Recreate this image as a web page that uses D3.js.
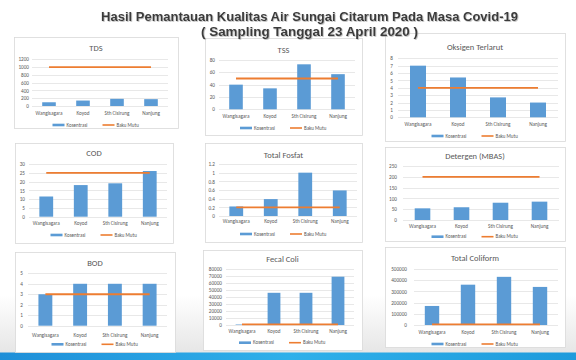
<!DOCTYPE html>
<html><head><meta charset="utf-8">
<script src="https://cdn.jsdelivr.net/npm/d3@7"></script>
<style>body{margin:0;background:#fff}svg{display:block}</style>
</head><body><svg id="c" width="576" height="360"></svg>
<script>
// ---------- DATA ----------
const categories = ["Wangisagara", "Koyod", "Sth Cisirung", "Nanjung"];
const seriesNames = ["Kosentrasi", "Baku Mutu"];
const mainTitle = ["Hasil Pemantauan Kualitas Air Sungai Citarum Pada Masa Covid-19", "( Sampling Tanggal 23 April 2020 )"];
const chartTitles = ["TDS", "TSS", "Oksigen Terlarut", "COD", "Total Fosfat", "Detergen (MBAS)", "BOD", "Fecal Coli", "Total Coliform"];

const tdsValues = [96, 140, 184, 176];
const tdsStandard = [1000, 1000, 1000, 1000];
const tssValues = [40, 34, 73, 57];
const tssStandard = [50, 50, 50, 50];
const doValues = [7, 5.4, 2.7, 2];
const doStandard = [4, 4, 4, 4];
const codValues = [11.5, 18, 19, 26];
const codStandard = [25, 25, 25, 25];
const fosfatValues = [0.22, 0.39, 1.0, 0.59];
const fosfatStandard = [0.2, 0.2, 0.2, 0.2];
const detergenValues = [54, 59, 80, 85];
const detergenStandard = [200, 200, 200, 200];
const bodValues = [3, 4, 4, 4];
const bodStandard = [3, 3, 3, 3];
const fecalValues = [700, 46000, 46000, 69000];
const fecalStandard = [1000, 1000, 1000, 1000];
const coliformValues = [170000, 360000, 430000, 340000];
const coliformStandard = [5000, 5000, 5000, 5000];

const tdsTicks = [0, 200, 400, 600, 800, 1000, 1200];
const tssTicks = [0, 20, 40, 60, 80];
const doTicks = [0, 1, 2, 3, 4, 5, 6, 7, 8];
const codTicks = [0, 5, 10, 15, 20, 25, 30];
const fosfatTicks = [0, 0.2, 0.4, 0.6, 0.8, 1, 1.2];
const fosfatTickLabels = ["0", "0.2", "0.4", "0.6", "0.8", "1", "1.2"];
const detergenTicks = [0, 50, 100, 150, 200, 250];
const bodTicks = [0, 1, 2, 3, 4, 5];
const fecalTicks = [0, 10000, 20000, 30000, 40000, 50000, 60000, 70000, 80000];
const coliformTicks = [0, 100000, 200000, 300000, 400000, 500000];

// ---------- LAYOUT (positions only) ----------
const layout = [
  {box:[14,37,178,128], px:[32,168], py:[59.3,106], titleY:48, catY:113, legY:125, labelX:29},
  {box:[205,38,362,135], px:[219,355], py:[60,109.3], titleY:50, catY:116, legY:128, labelX:215},
  {box:[385,33,565,141], px:[398,558], py:[58.3,117.3], titleY:47, catY:124, legY:136, labelX:393},
  {box:[15,143,173,243], px:[29,167], py:[164,216.7], titleY:153, catY:223, legY:235, labelX:25},
  {box:[205,143,362,242], px:[219,357], py:[164,216], titleY:155, catY:221, legY:234, labelX:215},
  {box:[385,147,565,241], px:[403,559], py:[166,220], titleY:156, catY:225.7, legY:236.7, labelX:397},
  {box:[15,252,175,352], px:[28,167], py:[273.3,325.7], titleY:263, catY:335, legY:344.3, labelX:23},
  {box:[203,250,362,350], px:[226,354], py:[269,325], titleY:259, catY:331, legY:342.7, labelX:222},
  {box:[385,247,565,347], px:[414,558], py:[269,325], titleY:257.7, catY:332, legY:344, labelX:407}
];

const panels = [
  {values:tdsValues, std:tdsStandard, ticks:tdsTicks},
  {values:tssValues, std:tssStandard, ticks:tssTicks},
  {values:doValues, std:doStandard, ticks:doTicks},
  {values:codValues, std:codStandard, ticks:codTicks},
  {values:fosfatValues, std:fosfatStandard, ticks:fosfatTicks, labels:fosfatTickLabels},
  {values:detergenValues, std:detergenStandard, ticks:detergenTicks},
  {values:bodValues, std:bodStandard, ticks:bodTicks},
  {values:fecalValues, std:fecalStandard, ticks:fecalTicks},
  {values:coliformValues, std:coliformStandard, ticks:coliformTicks}
];

const BAR = "#5b9bd5", LINE = "#ed7d31", TXT = "#595959", GRID = "#d9d9d9";
const FONT = "Carlito, Lato, 'Open Sans', sans-serif";

const svg = d3.select("#c");
const defs = svg.append("defs");
const g1 = defs.append("linearGradient").attr("id","bg").attr("x1",0).attr("y1",0).attr("x2",0).attr("y2",1);
g1.append("stop").attr("offset","0").attr("stop-color","#ffffff");
g1.append("stop").attr("offset","1").attr("stop-color","#e6e6e6");
const g2 = defs.append("linearGradient").attr("id","blue").attr("x1",0).attr("y1",0).attr("x2",1).attr("y2",0);
g2.append("stop").attr("offset","0").attr("stop-color","#1f8fd8");
g2.append("stop").attr("offset","0.5").attr("stop-color","#2fb0ea");
g2.append("stop").attr("offset","1").attr("stop-color","#1e9bdc");
const sh = defs.append("filter").attr("id","shadow").attr("x","-5%").attr("y","-30%").attr("width","110%").attr("height","160%");
sh.append("feDropShadow").attr("dx",0.8).attr("dy",0.8).attr("stdDeviation",0.4).attr("flood-color","#999").attr("flood-opacity",0.7);

svg.append("rect").attr("x",0).attr("y",0).attr("width",576).attr("height",360).attr("fill","#fff");
svg.append("rect").attr("x",0).attr("y",295).attr("width",576).attr("height",58).attr("fill","url(#bg)");
svg.append("rect").attr("x",0).attr("y",352.5).attr("width",576).attr("height",7.5).attr("fill","url(#blue)");

panels.forEach((p, i) => {
  const L = layout[i];
  const g = svg.append("g");
  const [x0,y0,x1,y1] = L.box;
  g.append("rect").attr("x",x0+0.5).attr("y",y0+0.5).attr("width",x1-x0).attr("height",y1-y0)
    .attr("fill","#fff").attr("stroke","#d9d9d9").attr("stroke-width",0.8);
  g.append("text").attr("x",(x0+x1)/2).attr("y",L.titleY).attr("dy","0.35em").attr("text-anchor","middle")
    .attr("font-family",FONT).attr("font-size",8.5).attr("fill",TXT).text(chartTitles[i]);

  const x = d3.scaleBand().domain(categories).range(L.px).paddingInner(0.6).paddingOuter(0.3);
  const y = d3.scaleLinear().domain([0, d3.max(p.ticks)]).range([L.py[1], L.py[0]]);

  g.append("g").selectAll("line").data(p.ticks).join("line")
    .attr("x1",L.px[0]).attr("x2",L.px[1]).attr("y1",d=>Math.round(y(d))+0.5).attr("y2",d=>Math.round(y(d))+0.5)
    .attr("stroke",GRID).attr("stroke-width",0.6);

  const ax = d3.axisLeft(y).tickValues(p.ticks).tickSize(0).tickPadding(0)
    .tickFormat((d,j) => p.labels ? p.labels[j] : String(d));
  const ag = g.append("g").attr("transform",`translate(${L.labelX},0)`).call(ax);
  ag.select(".domain").remove();
  ag.selectAll("text").attr("font-family",FONT).attr("font-size",5.2).attr("fill",TXT);

  g.append("g").selectAll("rect").data(p.values).join("rect")
    .attr("x",(d,j)=>x(categories[j])).attr("width",x.bandwidth())
    .attr("y",d=>y(d)).attr("height",d=>y(0)-y(d)).attr("fill",BAR);

  const line = d3.line().x((d,j)=>x(categories[j])+x.bandwidth()/2).y(d=>y(d));
  g.append("path").datum(p.std).attr("d",line).attr("fill","none").attr("stroke",LINE).attr("stroke-width",1.8);

  g.append("g").selectAll("text").data(categories).join("text")
    .attr("x",d=>x(d)+x.bandwidth()/2).attr("y",L.catY).attr("dy","0.35em").attr("text-anchor","middle")
    .attr("font-family",FONT).attr("font-size",5.2).attr("fill",TXT).text(d=>d);

  const cx = (x0+x1)/2;
  const lg = g.append("g");
  const fs = 5;
  const t1w = 24, t2w = 23;
  const total = 12+2+t1w+12+12+2+t2w;
  let lx = cx - total/2;
  lg.append("rect").attr("x",lx).attr("y",L.legY-1.3).attr("width",12).attr("height",2.6).attr("fill",BAR);
  lg.append("text").attr("x",lx+14).attr("y",L.legY).attr("dy","0.35em").attr("font-family",FONT)
    .attr("font-size",fs).attr("fill",TXT).text(seriesNames[0]);
  lx += 12+2+t1w+12;
  lg.append("line").attr("x1",lx).attr("x2",lx+12).attr("y1",L.legY).attr("y2",L.legY)
    .attr("stroke",LINE).attr("stroke-width",1.6);
  lg.append("text").attr("x",lx+14).attr("y",L.legY).attr("dy","0.35em").attr("font-family",FONT)
    .attr("font-size",fs).attr("fill",TXT).text(seriesNames[1]);
});

// main title (drawn last so it sits above the panels)
const tw = [417, 217], ty = [21, 36];
const tg = svg.append("g").attr("filter","url(#shadow)");
mainTitle.forEach((t,i) => {
  tg.append("text").attr("x",309.5).attr("y",ty[i]).attr("text-anchor","middle")
    .attr("font-family","'Liberation Sans', Arial, sans-serif").attr("font-weight","bold").attr("font-size",12.5)
    .attr("fill","#3a3a3a").attr("textLength",tw[i]).attr("lengthAdjust","spacingAndGlyphs").text(t);
});
</script></body></html>
